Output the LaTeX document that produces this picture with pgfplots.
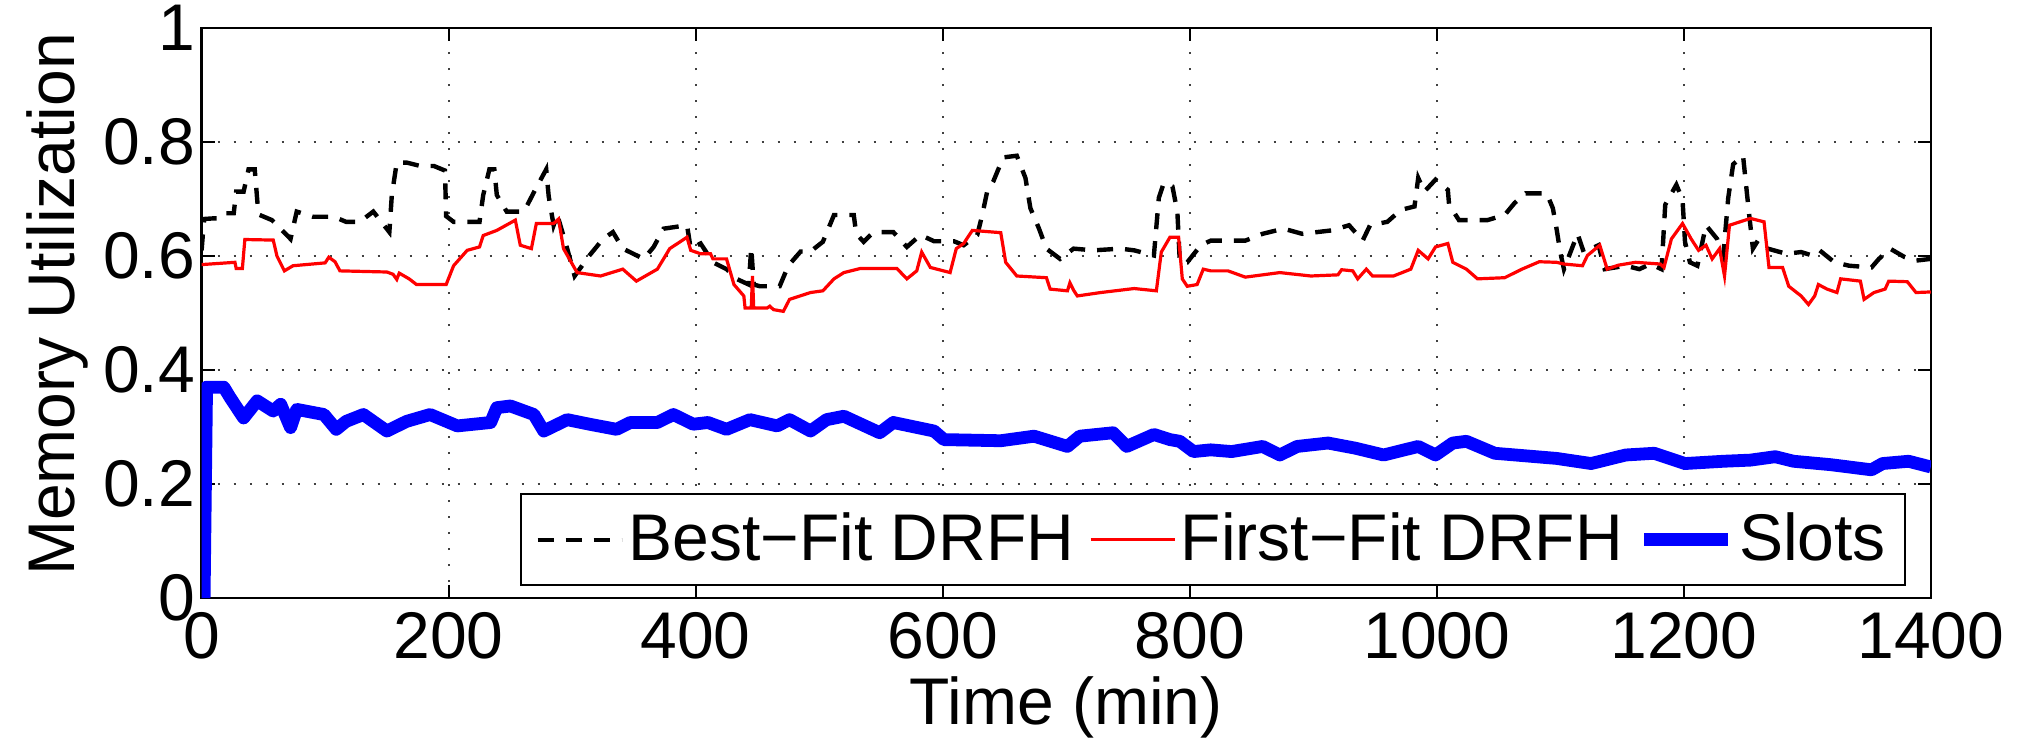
\documentclass[border=0pt]{standalone}
\usepackage{fontspec}
\setmainfont{Liberation Sans}
\usepackage{pgfplots}
\pgfplotsset{compat=1.18}
\newcommand{\cf}{\fontsize{16.5}{19}\selectfont}
\begin{document}
\begin{tikzpicture}
\begin{axis}[
 at={(0,0)}, anchor=south west,
 scale only axis, width=432.25pt, height=142.5pt,
 xmin=0, xmax=1400, ymin=0, ymax=1,
 xtick={0,200,400,600,800,1000,1200,1400},
 ytick={0,0.2,0.4,0.6,0.8,1},
 grid=major, grid style={black!75, line width=0.5pt, dash pattern=on 0.5pt off 3.5pt},
 tick align=inside, major tick length=3.3pt,
 tick style={black, line width=0.5pt},
 axis line style={line width=0.6pt},
 tick label style={font=\cf},
 label style={font=\cf},
 /pgf/number format/assume math mode=true,
 yticklabel style={/pgf/number format/fixed, inner xsep=1.5pt},
 xticklabel style={/pgf/number format/set thousands separator={}},
 xlabel={Time (min)}, ylabel={Memory Utilization},
 xlabel style={yshift=2.5pt},
 ylabel style={at={(ticklabel cs:0.515)}, inner sep=0pt, yshift=2pt},
 legend columns=3,
 legend cell align=left,
 legend image code/.code={\draw[#1] plot coordinates {(0pt,0pt) (21pt,0pt)};},
 legend style={at={(rel axis cs:1,0)}, anchor=south east, xshift=-6.25pt, yshift=3pt,
   draw=black, line width=0.5pt, font=\cf, inner xsep=3.5pt, inner ysep=3.4pt,
   nodes={inner sep=1.2pt},
   /tikz/every even column/.append style={column sep=2.5pt}},
]
\addplot[black, line width=1.1pt, dash pattern=on 4pt off 3pt] coordinates {
(0,0.610)(2,0.665)(9,0.666)(14,0.666)(18,0.675)(26,0.675)(28,0.713)(34,0.713)(38,0.752)(43,0.752)
(46,0.673)(57,0.663)(72,0.630)(77,0.678)(90,0.669)(107,0.669)(117,0.660)(128,0.660)(139,0.678)(152,0.642)
(154,0.707)(158,0.764)(166,0.764)(177,0.758)(188,0.758)(197,0.750)(198,0.670)(204,0.660)(225,0.660)(228,0.707)
(233,0.752)(237,0.752)(239,0.707)(247,0.678)(261,0.678)(270,0.716)(279,0.752)(281,0.705)(285,0.654)(288,0.672)
(296,0.613)(302,0.565)(314,0.601)(325,0.630)(333,0.642)(341,0.613)(358,0.595)(366,0.616)(374,0.648)(393,0.654)
(396,0.613)(404,0.622)(414,0.589)(425,0.577)(433,0.560)(443,0.550)(445,0.615)(447,0.550)(452,0.547)(468,0.547)
(475,0.583)(485,0.608)(493,0.608)(503,0.625)(512,0.672)(528,0.672)(530,0.639)(536,0.625)(544,0.642)(560,0.642)
(571,0.616)(582,0.637)(593,0.626)(609,0.626)(617,0.619)(628,0.637)(632,0.672)(636,0.713)(641,0.731)(649,0.773)
(660,0.776)(667,0.737)(671,0.684)(678,0.648)(684,0.613)(695,0.595)(706,0.613)(722,0.610)(744,0.613)(755,0.610)
(771,0.601)(775,0.702)(779,0.728)(786,0.722)(790,0.678)(792,0.589)(798,0.589)(809,0.619)(817,0.627)(845,0.627)
(859,0.639)(876,0.648)(891,0.639)(915,0.645)(929,0.654)(940,0.627)(946,0.654)(960,0.660)(971,0.681)(982,0.687)
(985,0.737)(990,0.713)(999,0.734)(1009,0.716)(1010,0.690)(1018,0.663)(1041,0.663)(1055,0.672)(1063,0.693)(1072,0.710)
(1089,0.710)(1094,0.684)(1097,0.648)(1100,0.607)(1103,0.577)(1114,0.639)(1119,0.607)(1131,0.619)(1136,0.577)(1153,0.583)
(1164,0.577)(1173,0.586)(1182,0.577)(1185,0.690)(1194,0.725)(1199,0.699)(1201,0.625)(1205,0.589)(1211,0.583)(1218,0.654)
(1227,0.630)(1232,0.601)(1236,0.702)(1240,0.761)(1248,0.776)(1251,0.713)(1253,0.672)(1256,0.613)(1260,0.627)(1268,0.613)
(1283,0.604)(1295,0.607)(1304,0.601)(1310,0.610)(1322,0.589)(1334,0.583)(1352,0.580)(1358,0.595)(1367,0.613)(1379,0.598)
(1388,0.592)(1400,0.595)
};
\addlegendentry{Best−Fit DRFH}
\addplot[red, line width=0.8pt] coordinates {
(0,0.585)(27,0.589)(28,0.578)(33,0.578)(35,0.629)(58,0.628)(61,0.600)(67,0.574)(74,0.583)(100,0.588)
(103,0.598)(108,0.590)(112,0.574)(150,0.572)(155,0.568)(158,0.559)(160,0.570)(168,0.560)(174,0.550)(198,0.550)
(204,0.583)(215,0.610)(225,0.616)(228,0.636)(239,0.645)(254,0.663)(258,0.619)(267,0.613)(271,0.657)(285,0.657)
(289,0.665)(293,0.613)(304,0.571)(323,0.565)(341,0.577)(352,0.556)(369,0.577)(379,0.613)(393,0.633)(396,0.610)
(404,0.604)(412,0.604)(414,0.595)(425,0.595)(431,0.550)(439,0.530)(440,0.509)(445,0.509)(446,0.565)(447,0.509)
(458,0.509)(460,0.512)(463,0.506)(471,0.503)(476,0.524)(493,0.536)(503,0.539)(512,0.560)(520,0.571)(533,0.578)
(563,0.578)(571,0.560)(579,0.574)(583,0.607)(590,0.580)(606,0.571)(611,0.613)(617,0.622)(624,0.645)(647,0.641)
(651,0.589)(660,0.565)(684,0.562)(687,0.542)(701,0.539)(703,0.553)(706,0.540)(709,0.530)(728,0.536)(755,0.543)
(773,0.539)(777,0.607)(784,0.633)(791,0.633)(794,0.560)(798,0.547)(806,0.550)(811,0.577)(817,0.574)(831,0.574)
(845,0.563)(873,0.571)(898,0.565)(920,0.567)(923,0.576)(932,0.574)(936,0.560)(943,0.577)(948,0.565)(965,0.565)
(979,0.577)(985,0.610)(993,0.595)(999,0.616)(1009,0.622)(1013,0.589)(1024,0.577)(1033,0.560)(1055,0.562)(1069,0.577)
(1083,0.590)(1097,0.589)(1103,0.586)(1118,0.583)(1122,0.601)(1132,0.619)(1138,0.577)(1147,0.584)(1161,0.589)(1181,0.586)
(1184,0.580)(1190,0.630)(1199,0.657)(1206,0.630)(1212,0.610)(1218,0.619)(1223,0.595)(1229,0.613)(1233,0.565)(1237,0.654)
(1254,0.666)(1265,0.660)(1269,0.580)(1280,0.580)(1285,0.547)(1295,0.530)(1301,0.515)(1306,0.530)(1309,0.550)(1316,0.542)
(1324,0.536)(1327,0.560)(1343,0.556)(1346,0.524)(1354,0.536)(1363,0.542)(1366,0.556)(1381,0.555)(1388,0.536)(1400,0.537)
};
\addlegendentry{First−Fit DRFH}
\addplot[blue, line width=3.2pt, line join=round] coordinates {
(2,0.000)(4,0.370)(18,0.370)(23,0.352)(34,0.316)(45,0.346)(58,0.328)(64,0.340)(72,0.299)(77,0.331)
(99,0.322)(109,0.296)(117,0.310)(131,0.322)(150,0.293)(166,0.310)(185,0.322)(207,0.302)(234,0.308)(239,0.334)
(250,0.337)(269,0.322)(277,0.293)(296,0.313)(314,0.305)(336,0.296)(347,0.308)(369,0.308)(382,0.322)(398,0.305)
(410,0.308)(425,0.296)(444,0.313)(466,0.302)(476,0.313)(493,0.293)(506,0.313)(520,0.319)(549,0.290)(560,0.308)
(593,0.293)(601,0.278)(647,0.276)(674,0.284)(701,0.266)(711,0.284)(738,0.290)(749,0.266)(771,0.287)(784,0.278)
(792,0.275)(803,0.257)(817,0.260)(834,0.257)(859,0.266)(873,0.251)(887,0.266)(912,0.272)(934,0.263)(957,0.251)
(985,0.266)(999,0.251)(1013,0.272)(1024,0.275)(1047,0.254)(1097,0.245)(1125,0.236)(1153,0.251)(1176,0.254)(1201,0.236)
(1232,0.240)(1254,0.242)(1274,0.248)(1289,0.240)(1319,0.234)(1352,0.225)(1361,0.236)(1382,0.240)(1400,0.230)
};
\addlegendentry{Slots}
\end{axis}
\pgfresetboundingbox
\useasboundingbox (-50.4pt,-36.5pt) rectangle (453.8pt,149.5pt);
\end{tikzpicture}
\end{document}
